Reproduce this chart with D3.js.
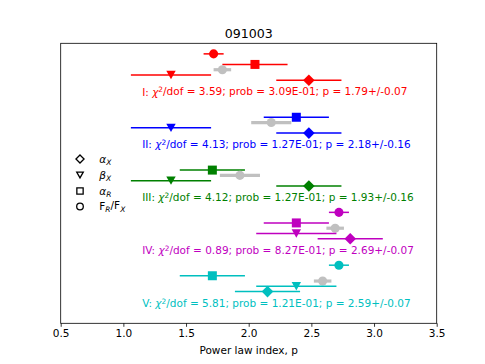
<!DOCTYPE html>
<html>
<head>
<meta charset="utf-8">
<script src="https://cdn.jsdelivr.net/npm/d3@7"></script>
<style>
  html, body { margin: 0; padding: 0; background: #fff; }
  svg { display: block; font-family: "DejaVu Sans", sans-serif; }
</style>
</head>
<body>
<svg id="chart" width="485" height="364"></svg>
<script>
// ---------- data ----------
const title = "091003";
const groups = ["I", "II", "III", "IV", "V"];
const groupColors = ["#ff0000", "#0000ff", "#008000", "#bf00bf", "#00bfbf"];
const chi2dof = ["3.59", "4.13", "4.12", "0.89", "5.81"];
const probs = ["3.09E-01", "1.27E-01", "1.27E-01", "8.27E-01", "1.21E-01"];
const pFit = [1.79, 2.18, 1.93, 2.69, 2.59];
const pFitErr = [0.07, 0.16, 0.16, 0.07, 0.07];
// alpha_X (diamond)
const alphaX = [2.48, 2.48, 2.48, 2.81, 2.15];
const alphaXErr = [0.26, 0.26, 0.26, 0.26, 0.26];
// beta_X (triangle)
const betaX = [1.38, 1.38, 1.38, 2.38, 2.38];
const betaXErr = [0.32, 0.32, 0.32, 0.32, 0.32];
// alpha_R (square)
const alphaR = [2.05, 2.38, 1.71, 2.38, 1.71];
const alphaRErr = [0.26, 0.26, 0.26, 0.26, 0.26];
// F_R/F_X (circle)
const fRfX = [1.72, null, null, 2.72, 2.72];
const fRfXErr = [0.08, null, null, 0.08, 0.08];
// row offsets (data units on the hidden y axis) within a group
const groupStep = 10;
const rowDiamond = 0, rowTriangle = 1, rowFit = 2, rowSquare = 3, rowCircle = 5, rowText = -2.2;
const textX = 1.15;
const xTicks = [0.5, 1.0, 1.5, 2.0, 2.5, 3.0, 3.5];
const xDomain = [0.5, 3.5];
const yDomain = [-46, 7];

// ---------- layout ----------
const svg = d3.select("#chart");
const L = 60.7, R = 436.7, T = 43.3, B = 323.3;
const x = d3.scaleLinear().domain(xDomain).range([L, R]);
const y = d3.scaleLinear().domain(yDomain).range([B, T]);
const gy = (g, row) => y(-groupStep * g + row);

const fontTick = 10.5;

// title
svg.append("text").attr("x", (L + R) / 2).attr("y", 37.5)
  .attr("text-anchor", "middle").attr("font-size", 12.6).attr("fill", "#000")
  .text(title);

// marker shapes
function markerPath(type, s) {
  if (type === "diamond") { const r = s * 0.58; return `M0,${-r}L${r},0L0,${r}L${-r},0Z`; }
  if (type === "triangle") { const w = s * 0.47, h = s * 0.42; return `M${-w},${-h}L${w},${-h}L0,${h}Z`; }
  if (type === "square") { const r = s * 0.45; return `M${-r},${-r}H${r}V${r}H${-r}Z`; }
  return null;
}

const plot = svg.append("g");

function drawPoint(g, val, err, row, color, type, lw, size) {
  if (val == null) return;
  const cy = gy(g, row);
  plot.append("line")
    .attr("x1", x(val - err)).attr("x2", x(val + err))
    .attr("y1", cy).attr("y2", cy)
    .attr("stroke", color).attr("stroke-width", lw);
  if (type === "circle") {
    plot.append("circle").attr("cx", x(val)).attr("cy", cy).attr("r", size * 0.48).attr("fill", color);
  } else {
    plot.append("path").attr("d", markerPath(type, size))
      .attr("transform", `translate(${x(val)},${cy})`).attr("fill", color);
  }
}

groups.forEach((name, g) => {
  const c = groupColors[g];
  drawPoint(g, fRfX[g], fRfXErr[g], rowCircle, c, "circle", 1.5, 9.5);
  drawPoint(g, alphaR[g], alphaRErr[g], rowSquare, c, "square", 1.5, 10);
  drawPoint(g, pFit[g], pFitErr[g], rowFit, "#c0c0c0", "circle", 3.2, 9.5);
  drawPoint(g, betaX[g], betaXErr[g], rowTriangle, c, "triangle", 1.5, 10);
  drawPoint(g, alphaX[g], alphaXErr[g], rowDiamond, c, "diamond", 1.5, 10);

  const t = plot.append("text")
    .attr("x", x(textX)).attr("y", gy(g, rowText))
    .attr("dy", "0.35em")
    .attr("font-size", 10.5).attr("fill", c);
  t.append("tspan").text(name + ": ");
  t.append("tspan").attr("font-style", "italic").text("χ");
  t.append("tspan").attr("font-size", 7.4).attr("dy", "-0.45em").text("2");
  t.append("tspan").attr("dy", "0.29em").text(`/dof = ${chi2dof[g]}; prob = ${probs[g]}; p = ${pFit[g].toFixed(2)}+/-${pFitErr[g].toFixed(2)}`);
});

// legend
const legendItems = [
  { type: "diamond", main: "α", sub: "X", italic: true },
  { type: "triangle", main: "β", sub: "X", italic: true },
  { type: "square", main: "α", sub: "R", italic: true },
  { type: "circle", main: "F", sub: "R", tail: "/F", sub2: "X", italic: false }
];
const legY = [159, 175, 191, 206.5];
legendItems.forEach((it, i) => {
  const ly = legY[i];
  if (it.type === "circle") {
    svg.append("circle").attr("cx", 80).attr("cy", ly).attr("r", 3.3)
      .attr("fill", "#fff").attr("stroke", "#000").attr("stroke-width", 1.3);
  } else {
    svg.append("path").attr("d", markerPath(it.type, 7))
      .attr("transform", `translate(80,${ly})`)
      .attr("fill", "#fff").attr("stroke", "#000").attr("stroke-width", 1.3);
  }
  const t = svg.append("text").attr("x", 99.3).attr("y", ly).attr("dy", "0.35em")
    .attr("font-size", 10.5).attr("fill", "#000");
  t.append("tspan").attr("font-style", it.italic ? "italic" : "normal").text(it.main);
  t.append("tspan").attr("font-size", 7.5).attr("dy", "0.3em").attr("font-style", "italic").text(it.sub);
  if (it.tail) {
    t.append("tspan").attr("dy", "-0.3em").text(it.tail);
    t.append("tspan").attr("font-size", 7.5).attr("dy", "0.3em").attr("font-style", "italic").text(it.sub2);
  }
});

// frame
svg.append("rect").attr("x", L).attr("y", T).attr("width", R - L).attr("height", B - T)
  .attr("fill", "none").attr("stroke", "#000").attr("stroke-width", 0.8);

// x axis
const xAxis = d3.axisBottom(x).tickValues(xTicks).tickFormat(d3.format(".1f"))
  .tickSize(3.5).tickPadding(2.5);
const ax = svg.append("g").attr("transform", `translate(0,${B})`).call(xAxis);
ax.select(".domain").remove();
ax.selectAll(".tick line").attr("stroke", "#000").attr("stroke-width", 0.8);
ax.selectAll(".tick text").attr("font-size", fontTick).attr("fill", "#000")
  .attr("font-family", "DejaVu Sans, sans-serif");

svg.append("text").attr("x", (L + R) / 2).attr("y", 353.5)
  .attr("text-anchor", "middle").attr("font-size", fontTick).attr("fill", "#000")
  .text("Power law index, p");
</script>
</body>
</html>
